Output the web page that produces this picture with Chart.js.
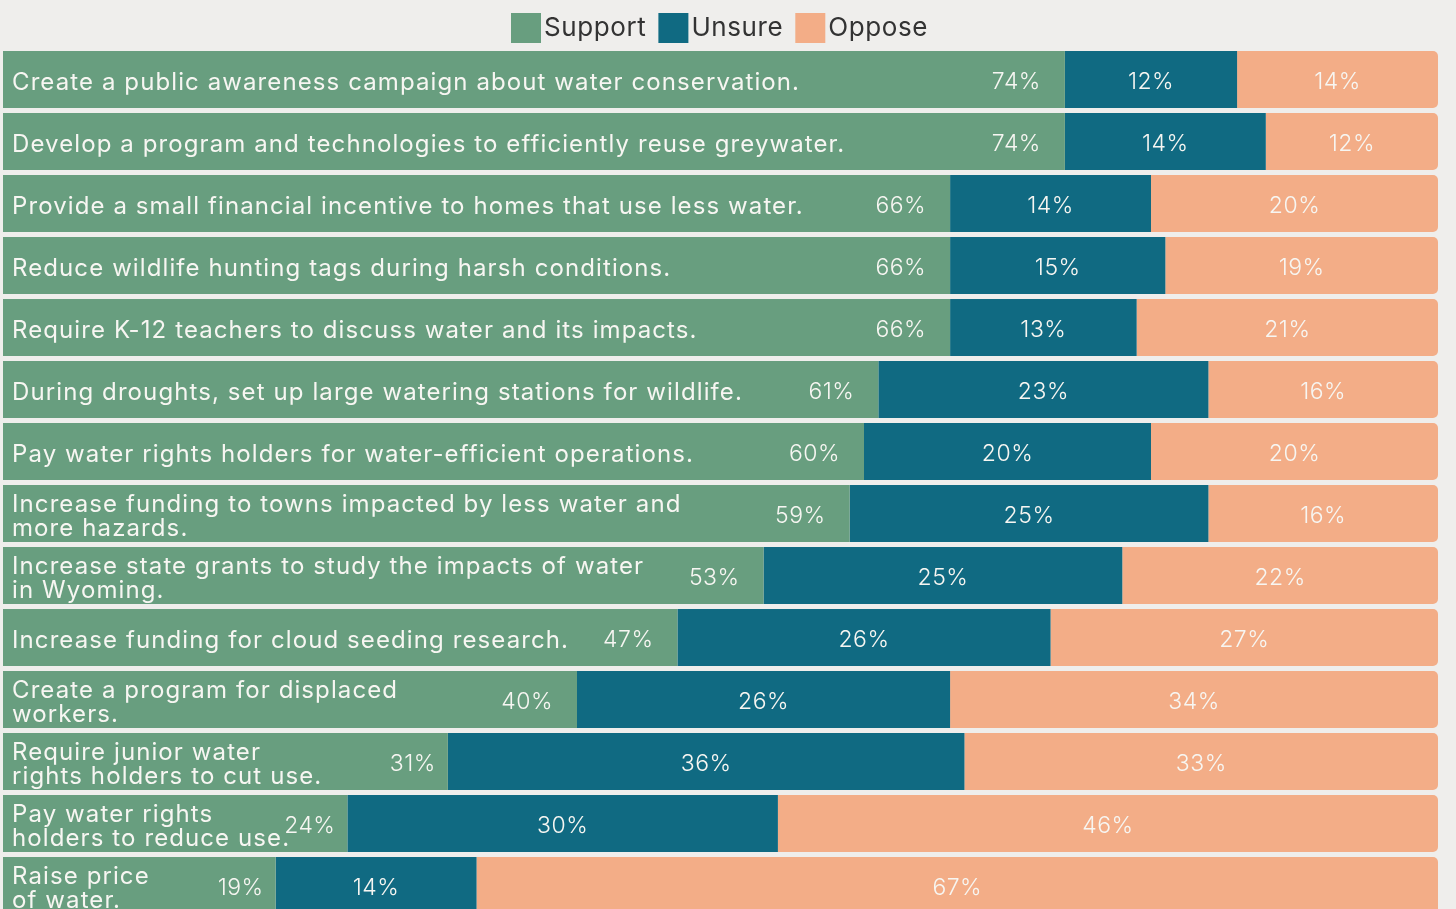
<!DOCTYPE html>
<html>
<head>
<meta charset="utf-8">
<script src="https://cdn.jsdelivr.net/npm/chart.js@4.4.1/dist/chart.umd.min.js"></script>
<style>
  html, body { margin: 0; padding: 0; background: #efeeec; overflow: hidden; }
  #wrap { width: 1456px; height: 920px; }
</style>
</head>
<body>
<div id="wrap"><canvas id="chart"></canvas></div>
<script>
// survey items, top to bottom
var categories = [
    ['Create a public awareness campaign about water conservation.'],
    ['Develop a program and technologies to efficiently reuse greywater.'],
    ['Provide a small financial incentive to homes that use less water.'],
    ['Reduce wildlife hunting tags during harsh conditions.'],
    ['Require K-12 teachers to discuss water and its impacts.'],
    ['During droughts, set up large watering stations for wildlife.'],
    ['Pay water rights holders for water-efficient operations.'],
    ['Increase funding to towns impacted by less water and', 'more hazards.'],
    ['Increase state grants to study the impacts of water', 'in Wyoming.'],
    ['Increase funding for cloud seeding research.'],
    ['Create a program for displaced', 'workers.'],
    ['Require junior water', 'rights holders to cut use.'],
    ['Pay water rights', 'holders to reduce use.'],
    ['Raise price', 'of water.']
];
var support = [74, 74, 66, 66, 66, 61, 60, 59, 53, 47, 40, 31, 24, 19];
var unsure  = [12, 14, 14, 15, 13, 23, 20, 25, 25, 26, 26, 36, 30, 14];
var oppose  = [14, 12, 20, 19, 21, 16, 20, 16, 22, 27, 34, 33, 46, 67];
var seriesNames = ['Support', 'Unsure', 'Oppose'];
var colors = ['#689e7f', '#106a82', '#f3ad87'];

var FONT = 'Inter, "Open Sans", sans-serif';

// custom legend + labels inside the bars
var labelPlugin = {
    id: 'labelPlugin',
    afterDatasetsDraw: function (chart) {
        var ctx = chart.ctx;
        ctx.save();

        // legend
        ctx.font = '26px ' + FONT;
        ctx.letterSpacing = '0.6px';
        ctx.textBaseline = 'middle';
        ctx.textAlign = 'left';
        var x = 511;
        chart.data.datasets.forEach(function (ds) {
            ctx.fillStyle = ds.backgroundColor;
            ctx.fillRect(x, 13, 30, 30);
            ctx.fillStyle = '#333333';
            ctx.fillText(ds.label, x + 33, 28);
            x += 33 + ctx.measureText(ds.label).width + 12;
        });

        // category labels
        var meta0 = chart.getDatasetMeta(0);
        ctx.font = '24px ' + FONT;
        ctx.letterSpacing = '1.1px';
        ctx.fillStyle = '#f7f6f2';
        chart.data.labels.forEach(function (lines, i) {
            var cy = meta0.data[i].y;
            var lh = 24;
            var y0 = cy - (lines.length - 1) * lh / 2 + 3;
            lines.forEach(function (line, j) {
                ctx.fillText(line, 12, y0 + j * lh);
            });
        });

        // percentages
        ctx.font = '300 23px ' + FONT;
        ctx.letterSpacing = '0.5px';
        chart.data.datasets.forEach(function (ds, d) {
            var meta = chart.getDatasetMeta(d);
            meta.data.forEach(function (bar, i) {
                var txt = ds.data[i] + '%';
                if (d === 0) {
                    // short bars: tuck the value closer to the segment end
                    var pad = ds.data[i] < 35 ? 12 : 24;
                    ctx.textAlign = 'right';
                    ctx.fillText(txt, bar.x - pad, bar.y + 3);
                } else {
                    ctx.textAlign = 'center';
                    ctx.fillText(txt, (bar.x + bar.base) / 2, bar.y + 3);
                }
            });
        });
        ctx.restore();
    }
};

new Chart(document.getElementById('chart'), {
    type: 'bar',
    data: {
        labels: categories,
        datasets: [
            { label: seriesNames[0], data: support, backgroundColor: colors[0], borderRadius: 0 },
            { label: seriesNames[1], data: unsure, backgroundColor: colors[1], borderRadius: 0 },
            { label: seriesNames[2], data: oppose, backgroundColor: colors[2],
              borderSkipped: false,
              borderRadius: { topLeft: 0, bottomLeft: 0, topRight: 5, bottomRight: 5 } }
        ]
    },
    options: {
        indexAxis: 'y',
        responsive: true,
        maintainAspectRatio: false,
        animation: false,
        layout: { padding: { left: 3, right: 18, top: 48.5, bottom: 3.5 } },
        datasets: { bar: { categoryPercentage: 1, barPercentage: 0.92 } },
        scales: {
            x: { stacked: true, min: 0, max: 100, display: false },
            y: { stacked: true, display: false }
        },
        plugins: {
            legend: { display: false },
            tooltip: { enabled: false }
        }
    },
    plugins: [labelPlugin]
});
</script>
</body>
</html>
